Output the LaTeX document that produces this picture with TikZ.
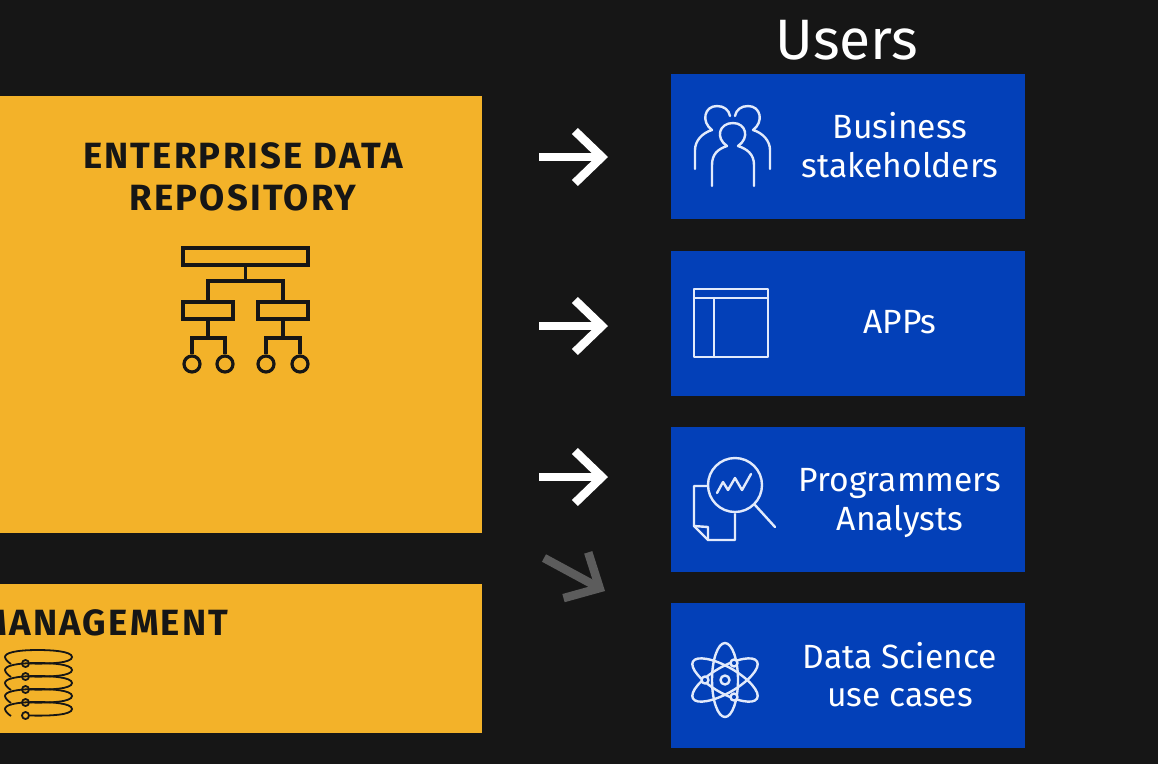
\documentclass[tikz,border=0pt]{standalone}
\usepackage{fontspec}
\setmainfont{Fira Sans}
\newfontfamily\headfont[LetterSpace=6]{Fira Sans}
\usetikzlibrary{arrows.meta}
\definecolor{bgdark}{HTML}{161616}
\definecolor{panelyellow}{HTML}{F3B229}
\definecolor{userblue}{HTML}{0340B8}
\definecolor{iconwhite}{HTML}{E2EAFB}
\definecolor{fadegrey}{HTML}{5C5C5C}
\tikzset{
  panel/.style={fill=panelyellow,draw=none,inner sep=0pt},
  userbox/.style={fill=userblue,draw=none,inner sep=0pt,minimum width=354pt,minimum height=145pt},
  usertext/.style={text=white,font=\fontsize{33.6}{38.5}\selectfont,align=center},
  heading/.style={text=bgdark,font=\fontsize{36.5}{41.5}\selectfont\headfont\bfseries,align=center},
  orgbox/.style={draw=bgdark,line width=3.2pt,inner sep=0pt,minimum height=17pt},
  orgdot/.style={circle,draw=bgdark,line width=3.2pt,inner sep=0pt,minimum size=16pt},
  orgline/.style={draw=bgdark,line width=3.2pt},
  icon/.style={draw=iconwhite,line width=2.4pt,line cap=round,line join=round},
  flow/.style={draw=white,line width=8.5pt,-{Straight Barb[length=27pt,width=52pt,line width=8.5pt]}}
}
\begin{document}
\begin{tikzpicture}[x=1pt,y=-1pt]
  \useasboundingbox (0,0) rectangle (1158,764);
  \fill[bgdark] (0,0) rectangle (1158,764);

  % left panels
  \node[panel,minimum width=490pt,minimum height=437pt] (repo) at (237,314.5) {};
  \node[panel,minimum width=490pt,minimum height=149pt] (mgmt) at (237,658.5) {};
  \node[heading] (repotext) at (243,177) {ENTERPRISE DATA\\REPOSITORY};
  \node[heading,anchor=east] (mgmttext) at (232,623) {MANAGEMENT};

  % org chart
  \node[orgbox,minimum width=125pt] (top) at (245.5,256.5) {};
  \node[orgbox,minimum width=50pt] (midl) at (208,310.5) {};
  \node[orgbox,minimum width=50pt] (midr) at (283,310.5) {};
  \node[orgdot] (d1) at (192,364) {};
  \node[orgdot] (d2) at (225,364) {};
  \node[orgdot] (d3) at (266,364) {};
  \node[orgdot] (d4) at (300,364) {};
  \coordinate (j1) at (245.5,281);
  \coordinate (j2) at (208,338);
  \coordinate (j3) at (283,338);
  \draw[orgline] (top.south) -- (j1);
  \draw[orgline] (midl.north) |- (j1) -| (midr.north);
  \draw[orgline] (midl.south) -- (j2);
  \draw[orgline] (midr.south) -- (j3);
  \draw[orgline] (d1.north) |- (j2) -| (d2.north);
  \draw[orgline] (d3.north) |- (j3) -| (d4.north);

  % coil
  \foreach \y/\n in {657/c1,670/c2,683/c3,696/c4,709/c5}{
    \node[circle,draw=bgdark,line width=1.8pt,inner sep=0pt,minimum size=7pt] (\n) at (25.5,\y+6.5) {};
    \draw[bgdark,line width=1.8pt] (\n.east) .. controls (50,\y+7) and (72,\y+6) .. (72,\y)
      .. controls (72,\y-6) and (50,\y-7) .. (38,\y-7)
      .. controls (15,\y-7) and (5,\y-4) .. (5,\y)
      .. controls (5,\y+2) and (8,\y+5) .. (11,\y+7);
  }

  % users
  \node[text=white,font=\fontsize{57}{57}\selectfont] (users) at (847,40) {Users};
  \node[userbox] (u1) at (848,146.5) {};
  \node[userbox] (u2) at (848,323.5) {};
  \node[userbox] (u3) at (848,499.5) {};
  \node[userbox] (u4) at (848,675.5) {};
  \node[usertext] (t1) at (900,145) {Business\\stakeholders};
  \node[usertext] (t2) at (900,322) {APPs};
  \node[usertext] (t3) at (900,503) {Programmers\\Analysts};
  \node[usertext] (t4) at (900,674.5) {Data Science\\use cases};

  % arrows
  \coordinate (s1) at (539,157);
  \coordinate (e1) at (608,157);
  \coordinate (s2) at (539,326);
  \coordinate (e2) at (608,326);
  \coordinate (s3) at (539,477);
  \coordinate (e3) at (608,477);
  \coordinate (s4) at (544,558);
  \coordinate (e4) at (605,591);
  \draw[flow] (s1) -- (e1);
  \draw[flow] (s2) -- (e2);
  \draw[flow] (s3) -- (e3);
  \draw[flow,draw=fadegrey] (s4) -- (e4);

  % people icon
  \draw[icon] (695,169) -- (695,150) .. controls (695,141) and (702,133) .. (712,130)
    .. controls (701,122) and (704,106) .. (717,106) .. controls (724,106) and (729,110) .. (730,116);
  \draw[icon] (770,169) -- (770,150) .. controls (770,141) and (763,133) .. (753,130)
    .. controls (764,122) and (761,106) .. (748,106) .. controls (741,106) and (736,110) .. (735,116);
  \draw[icon] (712,186) -- (712,165) .. controls (712,154) and (718,149) .. (727,146)
    .. controls (715,138) and (719,123) .. (733,123) .. controls (746,123) and (750,138) .. (738,146)
    .. controls (747,149) and (754,154) .. (754,165) -- (754,186);

  % window icon
  \node[icon,draw,minimum width=74pt,minimum height=68pt,inner sep=0pt] (win) at (731,323) {};
  \draw[icon] (694,298) -- (768,298);
  \draw[icon] (714,298) -- (714,357);

  % magnifier icon
  \node[icon,draw,circle,minimum size=54pt,inner sep=0pt] (lens) at (735,485) {};
  \draw[icon] (lens.-45) -- (775,527);
  \draw[icon] (717,493) -- (723,482) -- (728,490) -- (735,478) -- (742,490) -- (751,474);
  \draw[icon] (708,486) -- (694,486) -- (694,526) -- (708,540) -- (735,540) -- (735,514);
  \draw[icon] (694,526) -- (708,527) -- (708,540);

  % atom icon
  \coordinate (atom) at (725,680);
  \foreach \a in {0,60,120}{
    \draw[icon,rotate around={\a:(atom)}] (atom) ellipse [x radius=13,y radius=37];
  }
  \node[icon,draw,circle,fill=userblue,minimum size=9pt,inner sep=0pt] (nuc) at (atom) {};
  \node[icon,draw,circle,fill=userblue,minimum size=7pt,inner sep=0pt] (el1) at (734,663) {};
  \node[icon,draw,circle,fill=userblue,minimum size=7pt,inner sep=0pt] (el2) at (705,680) {};
  \node[icon,draw,circle,fill=userblue,minimum size=7pt,inner sep=0pt] (el3) at (734,697) {};
\end{tikzpicture}
\end{document}
